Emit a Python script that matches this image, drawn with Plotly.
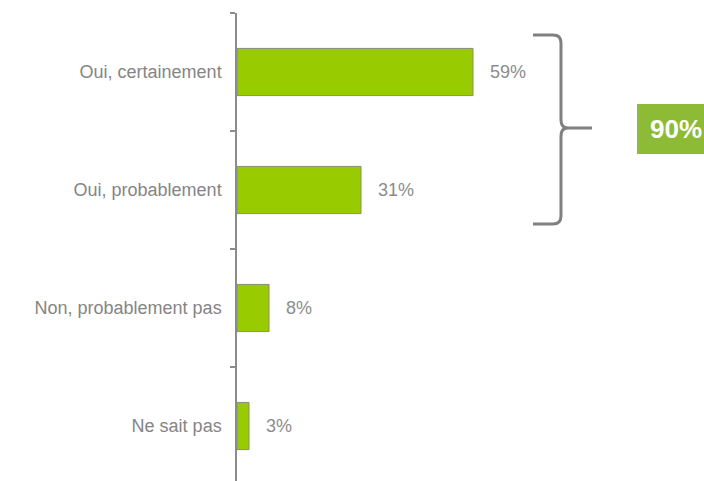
import plotly.graph_objects as go

# Survey answers and their shares (%)
categories = ["Oui, certainement", "Oui, probablement", "Non, probablement pas", "Ne sait pas"]
values = [59, 31, 8, 3]
total_oui_label = "90%"

W, H = 704, 481
L, R, T, B = 237, 0, 13, 0
plot_w = W - L - R
plot_h = H - T - B


def px(x):
    return (x - L) / plot_w


def py(y):
    return (H - B - y) / plot_h


fig = go.Figure(
    go.Bar(
        x=values,
        y=categories,
        orientation="h",
        marker=dict(color="#99CC00", line=dict(color="#8a8a7a", width=1)),
        width=0.4,
        hoverinfo="skip",
    )
)

# value labels just right of each bar
for cat, v in zip(categories, values):
    fig.add_annotation(
        x=v, y=cat, text=f"{v}%", showarrow=False, xanchor="left", xshift=15,
        font=dict(family="Liberation Sans, Arial", size=18, color="#8c8c8c"),
    )

# curly brace grouping the two "Oui" answers
pts = [
    ("M", [(533, 35)]), ("L", [(553, 35)]), ("Q", [(561, 35), (561, 43)]),
    ("L", [(561, 120)]), ("Q", [(561, 128), (568, 128)]), ("L", [(592, 128)]),
    ("M", [(568, 128)]), ("Q", [(561, 128), (561, 136)]), ("L", [(561, 216)]),
    ("Q", [(561, 224), (553, 224)]), ("L", [(533, 224)]),
]
path = " ".join(
    cmd + " " + " ".join(f"{px(x):.5f},{py(y):.5f}" for x, y in coords)
    for cmd, coords in pts
)
fig.add_shape(type="path", path=path, xref="paper", yref="paper",
              line=dict(color="#808080", width=3))

# total box
fig.add_shape(type="rect", xref="paper", yref="paper",
              x0=px(637), x1=px(712), y0=py(154), y1=py(104),
              fillcolor="#8DBB35", line=dict(width=0))
fig.add_annotation(
    x=px(676), y=py(129), xref="paper", yref="paper", text=f"<b>{total_oui_label}</b>",
    showarrow=False, xanchor="center", yanchor="middle",
    font=dict(family="Liberation Sans, Arial", size=26, color="white"),
)

fig.update_layout(
    width=W, height=H,
    margin=dict(l=L, r=R, t=T, b=B, pad=0),
    paper_bgcolor="white", plot_bgcolor="white",
    showlegend=False,
    font=dict(family="Liberation Sans, Arial", size=18, color="#858585"),
)
fig.update_xaxes(range=[0, plot_w / 4], visible=False, fixedrange=True)
fig.update_yaxes(
    categoryorder="array", categoryarray=categories,
    range=[3.466, -0.5],
    showline=True, linecolor="#8c8c8c", linewidth=1.5,
    ticks="outside", tickson="boundaries", ticklen=5, tickcolor="#8c8c8c", tickwidth=1.5,
    ticklabelstandoff=10, showgrid=False, zeroline=False,
)

fig.write_html("out.html")
